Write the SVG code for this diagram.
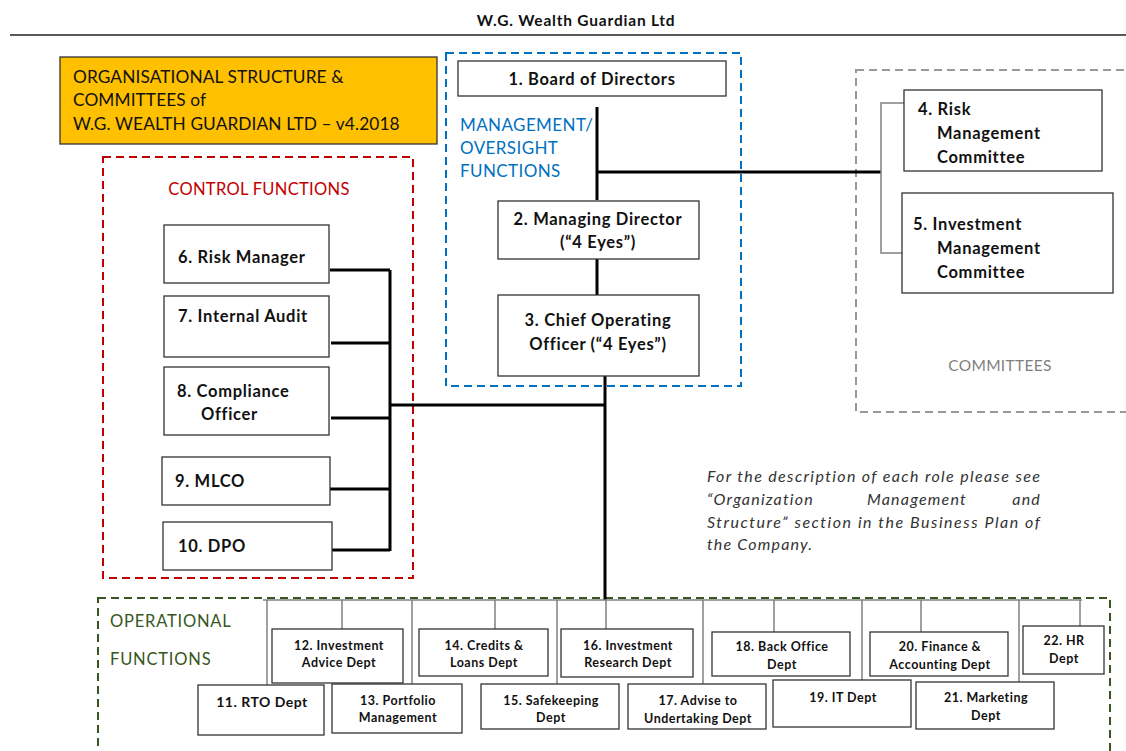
<svg xmlns="http://www.w3.org/2000/svg" width="1126" height="751" viewBox="0 0 1126 751">
<style>
text{font-family:Lato,"Liberation Sans",sans-serif;fill:#111}
.box{fill:#fff;stroke:#333;stroke-width:1.3}
.bt{font-size:16.5px;font-weight:bold;letter-spacing:0.7px}
.ot{font-size:12.5px;font-weight:bold;text-anchor:middle;letter-spacing:0.5px}
.c{text-anchor:middle}
.thick{stroke:#000;stroke-width:3;fill:none}
.thin{stroke:#808080;stroke-width:1.5;fill:none}
.dash{fill:none;stroke-width:2;stroke-dasharray:8 5}
.hd{font-size:17.3px;letter-spacing:0.1px}
.note{font-size:16px;font-style:italic;letter-spacing:1.2px;fill:#333}
.mg{font-size:17px;letter-spacing:0.4px;fill:#0070C0}
</style>
<rect width="1126" height="751" fill="#fff"/>
<g id="header">
<text x="576" y="26" class="c" style="font-size:15.5px;font-weight:bold;letter-spacing:0.8px">W.G. Wealth Guardian Ltd</text>
<line x1="10" y1="35" x2="1126" y2="35" stroke="#222" stroke-width="1.5"/>
</g>
<g id="title">
<rect x="60" y="57" width="377" height="87" fill="#FFC000" stroke="#333" stroke-width="1.3"/>
<text x="73" y="83" class="hd">ORGANISATIONAL STRUCTURE &amp;</text>
<text x="73" y="106" class="hd">COMMITTEES of</text>
<text x="73" y="130" class="hd">W.G. WEALTH GUARDIAN LTD – v4.2018</text>
</g>
<g id="groups">
<rect x="103" y="157" width="310" height="421" class="dash" stroke="#C00000"/>
<text x="259" y="195" class="c" style="font-size:16.5px;letter-spacing:0.3px;fill:#C00000">CONTROL FUNCTIONS</text>
<rect x="446" y="53" width="295" height="333" class="dash" stroke="#0070C0"/>
<text x="460" y="131" class="mg">MANAGEMENT/</text>
<text x="460" y="154" class="mg">OVERSIGHT</text>
<text x="460" y="177" class="mg">FUNCTIONS</text>
<rect x="856" y="70" width="290" height="342" class="dash" stroke="#999"/>
<text x="1000" y="371" class="c" style="font-size:15.5px;letter-spacing:0.3px;fill:#7f7f7f">COMMITTEES</text>
<rect x="98" y="598" width="1012" height="180" class="dash" stroke="#375623"/>
<text x="110" y="627" style="font-size:16.5px;letter-spacing:0.8px;fill:#375623">OPERATIONAL</text>
<text x="110" y="665" style="font-size:16.5px;letter-spacing:0.8px;fill:#375623">FUNCTIONS</text>
</g>
<g id="connectors">
<polyline class="thick" points="597,107 597,200"/>
<polyline class="thick" points="597,172 881,172"/>
<polyline class="thick" points="597,259 597,295"/>
<polyline class="thick" points="605,376 605,600"/>
<polyline class="thick" points="390,405 605,405"/>
<polyline class="thick" points="390,270 390,551"/>
<polyline class="thick" points="330,270 390,270"/>
<polyline class="thick" points="331,343 390,343"/>
<polyline class="thick" points="331,418 390,418"/>
<polyline class="thick" points="330,489 390,489"/>
<polyline class="thick" points="332,550 390,550"/>
<polyline class="thin" points="904,103 881,103 881,253 902,253"/>
<polyline class="thin" points="263,600 1082,600"/>
<polyline class="thin" points="267,600 267,685"/>
<polyline class="thin" points="342,600 342,629"/>
<polyline class="thin" points="412,600 412,684"/>
<polyline class="thin" points="495,600 495,629"/>
<polyline class="thin" points="557,600 557,684"/>
<polyline class="thin" points="606,600 606,629"/>
<polyline class="thin" points="703,600 703,684"/>
<polyline class="thin" points="774,600 774,632"/>
<polyline class="thin" points="862,600 862,680"/>
<polyline class="thin" points="921,600 921,632"/>
<polyline class="thin" points="1019,600 1019,682"/>
<polyline class="thin" points="1080,600 1080,626"/>
</g>
<g id="n1"><rect class="box" x="458" y="61" width="268" height="35"/><text class="bt c" x="592" y="85">1. Board of Directors</text></g>
<g id="n2"><rect class="box" x="498" y="201" width="201" height="58"/><text class="bt c" x="598" y="225">2. Managing Director</text><text class="bt c" x="598" y="248">(“4 Eyes”)</text></g>
<g id="n3"><rect class="box" x="498" y="295" width="201" height="81"/><text class="bt c" x="598" y="326">3. Chief Operating</text><text class="bt c" x="598" y="350">Officer (“4 Eyes”)</text></g>
<g id="n4"><rect class="box" x="904" y="90" width="198" height="81"/><text class="bt" x="918" y="115">4. Risk</text><text class="bt" x="937" y="139">Management</text><text class="bt" x="937" y="163">Committee</text></g>
<g id="n5"><rect class="box" x="902" y="193" width="211" height="100"/><text class="bt" x="913" y="230">5. Investment</text><text class="bt" x="937" y="254">Management</text><text class="bt" x="937" y="278">Committee</text></g>
<g id="n6"><rect class="box" x="164" y="225" width="165" height="58"/><text class="bt" x="178" y="263">6. Risk Manager</text></g>
<g id="n7"><rect class="box" x="164" y="296" width="165" height="61"/><text class="bt" x="178" y="322">7. Internal Audit</text></g>
<g id="n8"><rect class="box" x="164" y="367" width="165" height="68"/><text class="bt" x="177" y="397">8. Compliance</text><text class="bt" x="201" y="420">Officer</text></g>
<g id="n9"><rect class="box" x="162" y="457" width="168" height="48"/><text class="bt" x="175" y="487">9. MLCO</text></g>
<g id="n10"><rect class="box" x="163" y="522" width="169" height="48"/><text class="bt" x="178" y="552">10. DPO</text></g>
<g id="n11"><rect class="box" x="198" y="685" width="126" height="50"/><text class="ot" x="262" y="707" style="font-size:14px">11. RTO Dept</text></g>
<g id="n12"><rect class="box" x="272" y="629" width="131" height="54"/><text class="ot" x="339" y="650">12. Investment</text><text class="ot" x="339" y="667">Advice Dept</text></g>
<g id="n13"><rect class="box" x="332" y="684" width="130" height="49"/><text class="ot" x="398" y="705">13. Portfolio</text><text class="ot" x="398" y="722">Management</text></g>
<g id="n14"><rect class="box" x="419" y="629" width="129" height="47"/><text class="ot" x="484" y="650">14. Credits &amp;</text><text class="ot" x="484" y="667">Loans Dept</text></g>
<g id="n15"><rect class="box" x="481" y="684" width="138" height="45"/><text class="ot" x="551" y="705">15. Safekeeping</text><text class="ot" x="551" y="722">Dept</text></g>
<g id="n16"><rect class="box" x="561" y="629" width="132" height="48"/><text class="ot" x="628" y="650">16. Investment</text><text class="ot" x="628" y="667">Research Dept</text></g>
<g id="n17"><rect class="box" x="628" y="684" width="138" height="45"/><text class="ot" x="698" y="705">17. Advise to</text><text class="ot" x="698" y="723">Undertaking Dept</text></g>
<g id="n18"><rect class="box" x="712" y="632" width="138" height="44"/><text class="ot" x="782" y="651">18. Back Office</text><text class="ot" x="782" y="669">Dept</text></g>
<g id="n19"><rect class="box" x="773" y="680" width="138" height="47"/><text class="ot" x="843" y="702">19. IT Dept</text></g>
<g id="n20"><rect class="box" x="870" y="632" width="138" height="44"/><text class="ot" x="940" y="651">20. Finance &amp;</text><text class="ot" x="940" y="669">Accounting Dept</text></g>
<g id="n21"><rect class="box" x="916" y="682" width="138" height="47"/><text class="ot" x="986" y="702">21. Marketing</text><text class="ot" x="986" y="720">Dept</text></g>
<g id="n22"><rect class="box" x="1023" y="626" width="81" height="48"/><text class="ot" x="1064" y="645">22. HR</text><text class="ot" x="1064" y="663">Dept</text></g>
<g id="note">
<text class="note" x="707" y="482" textLength="334" lengthAdjust="spacing">For the description of each role please see</text>
<text class="note" x="707" y="505">“Organization</text>
<text class="note" x="867" y="505">Management</text>
<text class="note" x="1041" y="505" style="text-anchor:end">and</text>
<text class="note" x="707" y="528" textLength="334" lengthAdjust="spacing">Structure” section in the Business Plan of</text>
<text class="note" x="707" y="550">the Company.</text>
</g>
</svg>
